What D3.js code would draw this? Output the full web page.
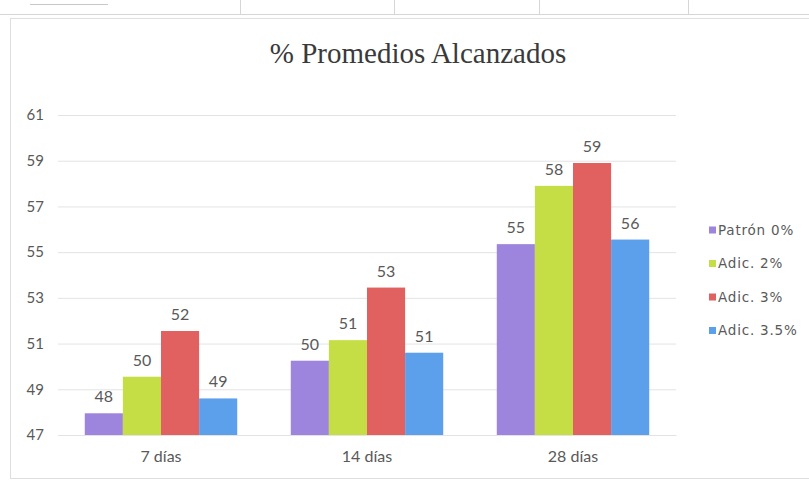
<!DOCTYPE html>
<html>
<head>
<meta charset="utf-8">
<script src="https://cdn.jsdelivr.net/npm/d3@7"></script>
<style>
  html, body { margin: 0; padding: 0; background: #ffffff; }
  svg { display: block; }
</style>
</head>
<body>
<svg id="chart" width="809" height="483"></svg>
<script>
// Curing ages (x categories)
const categories = ["7 días", "14 días", "28 días"];
// Mixes (series)
const seriesNames = ["Patrón 0%", "Adic. 2%", "Adic. 3%", "Adic. 3.5%"];
const seriesColors = ["#9d84dc", "#c6de45", "#e0615f", "#5c9fea"];
// Average % reached, one array per mix, ordered like categories
const patron0 = [47.95, 50.25, 55.35];
const adic2 = [49.55, 51.15, 57.9];
const adic3 = [51.55, 53.45, 58.9];
const adic35 = [48.6, 50.6, 55.55];
const seriesValues = [patron0, adic2, adic3, adic35];
// Value axis ticks
const yTicks = [47, 49, 51, 53, 55, 57, 59, 61];

const svg = d3.select("#chart");
const W = 809, H = 483;
const font = "Lato, 'Open Sans', sans-serif";
const textColor = "#595959";

// sheet cell lines and chart frame
const sheet = svg.append("g").attr("stroke", "#d6d6d6").attr("fill", "none");
sheet.append("line").attr("x1", 0).attr("x2", W).attr("y1", 14.5).attr("y2", 14.5);
[240, 394, 539, 688].forEach(x =>
  sheet.append("line").attr("x1", x + 0.5).attr("x2", x + 0.5).attr("y1", 0).attr("y2", 14));
sheet.append("line").attr("x1", 30).attr("x2", 108).attr("y1", 4.5).attr("y2", 4.5).attr("stroke", "#c8c8c8");
svg.append("rect").attr("x", 10.5).attr("y", 18.5).attr("width", 806).attr("height", 460)
  .attr("fill", "none").attr("stroke", "#dedede");

// scales
const x0 = d3.scaleBand().domain(categories).range([58, 676]).paddingInner(0.26).paddingOuter(0.13);
const x1 = d3.scaleBand().domain(seriesNames).range([0, x0.bandwidth()]).padding(0);
const y = d3.scaleLinear().domain([47, 61]).range([435, 115]);

// title
svg.append("text")
  .attr("x", 418).attr("y", 63)
  .attr("text-anchor", "middle")
  .attr("font-family", "'Liberation Serif', 'Times New Roman', serif")
  .attr("font-size", 29)
  .attr("fill", "#3a3a3a")
  .text("% Promedios Alcanzados");

// gridlines + y labels
const yAxis = d3.axisLeft(y).tickValues(yTicks).tickSize(-(x0.range()[1] - x0.range()[0])).tickPadding(14).tickFormat(d3.format("d"));
const gy = svg.append("g").attr("transform", `translate(${x0.range()[0]},0)`).call(yAxis);
gy.select(".domain").remove();
gy.selectAll(".tick line").attr("stroke", "#e3e3e3");
gy.selectAll(".tick text").attr("font-family", font).attr("font-size", 15).attr("fill", textColor);

// x axis labels
const xAxis = d3.axisBottom(x0).tickSize(0).tickPadding(16);
const gx = svg.append("g").attr("transform", `translate(0,${y(47)})`).call(xAxis);
gx.select(".domain").attr("stroke", "#e3e3e3");
gx.selectAll(".tick text").attr("font-family", font).attr("font-size", 16).attr("fill", textColor);

// bars
const rows = categories.map((c, i) => ({
  cat: c,
  vals: seriesNames.map((s, j) => ({ s, j, v: seriesValues[j][i] }))
}));
const groups = svg.append("g").selectAll("g").data(rows).join("g")
  .attr("transform", d => `translate(${x0(d.cat)},0)`);
groups.selectAll("rect").data(d => d.vals).join("rect")
  .attr("x", d => x1(d.s))
  .attr("width", x1.bandwidth())
  .attr("y", d => y(d.v))
  .attr("height", d => y(47) - y(d.v))
  .attr("fill", d => seriesColors[d.j]);
groups.selectAll("text").data(d => d.vals).join("text")
  .attr("x", d => x1(d.s) + x1.bandwidth() / 2)
  .attr("y", d => y(d.v) - 11)
  .attr("text-anchor", "middle")
  .attr("font-family", font).attr("font-size", 16).attr("fill", textColor)
  .text(d => d3.format(".0f")(d.v));

// legend
const legend = svg.append("g").attr("transform", "translate(709,230)");
const li = legend.selectAll("g").data(seriesNames).join("g")
  .attr("transform", (d, i) => `translate(0,${i * 33.5})`);
li.append("rect").attr("x", 0).attr("y", -3.5).attr("width", 7).attr("height", 7)
  .attr("fill", (d, i) => seriesColors[i]);
li.append("text").attr("x", 9).attr("y", 0).attr("dy", "0.35em")
  .attr("font-family", "'DejaVu Sans', sans-serif").attr("font-size", 13.5)
  .attr("letter-spacing", 0.8).attr("fill", textColor)
  .text(d => d);
</script>
</body>
</html>
